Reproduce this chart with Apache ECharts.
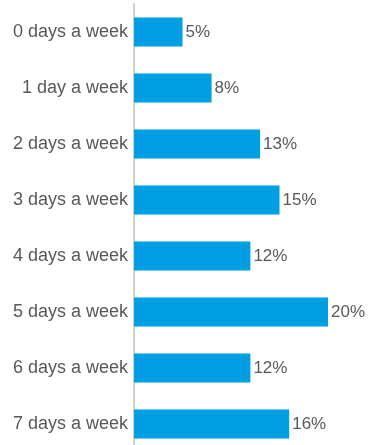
<!DOCTYPE html>
<html>
<head>
<meta charset="utf-8">
<script src="https://cdn.jsdelivr.net/npm/echarts@6/dist/echarts.min.js"></script>
<style>html,body{margin:0;padding:0;background:#fff;overflow:hidden;}#c{width:369px;height:452px;}</style>
</head>
<body>
<div id="c"></div>
<script>
const categories = ["0 days a week","1 day a week","2 days a week","3 days a week","4 days a week","5 days a week","6 days a week","7 days a week"];
const values = [5, 8, 13, 15, 12, 20, 12, 16];

const chart = echarts.init(document.getElementById('c'));
chart.setOption({
  animation: false,
  grid: { left: 134, top: 4, width: 194, bottom: 0, containLabel: false },
  xAxis: { type: 'value', min: 0, max: 20, show: false },
  yAxis: {
    type: 'category', data: categories, inverse: true, offset: 1,
    axisLine: { show: true, lineStyle: { color: '#d0d0d0', width: 2 } },
    axisTick: { show: false },
    axisLabel: { color: '#595959', fontFamily: 'Liberation Sans', fontSize: 18, margin: 5 }
  },
  series: [{
    type: 'bar', data: values, barCategoryGap: '48%',
    itemStyle: { color: '#009fe3' },
    label: { show: true, position: 'right', distance: 3, formatter: '{c}%', color: '#595959', fontFamily: 'Liberation Sans', fontSize: 17 }
  }]
});
</script>
</body>
</html>
